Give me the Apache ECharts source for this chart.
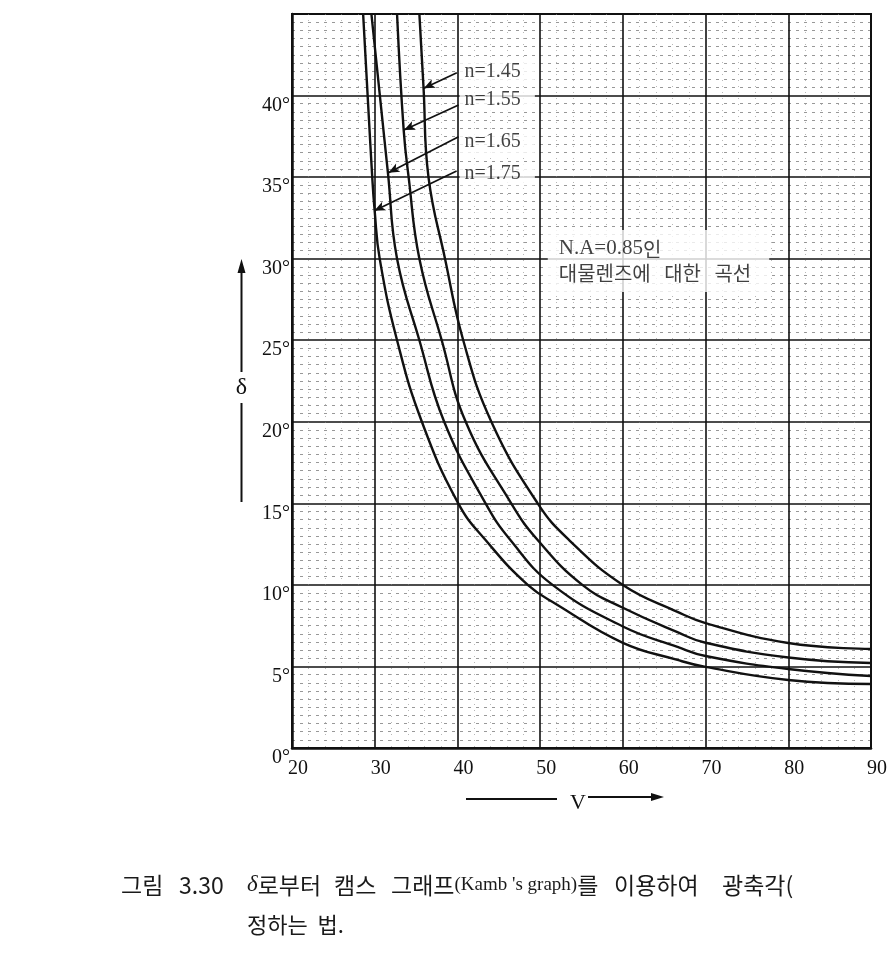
<!DOCTYPE html>
<html><head><meta charset="utf-8">
<script src="https://cdn.jsdelivr.net/npm/echarts@6/dist/echarts.min.js"></script>
<style>html,body{margin:0;padding:0;background:#fff}#c{width:890px;height:953px}</style>
</head><body><div id="c"></div>
<script>
// ---- data (V in degrees, delta in degrees) ----
const xTicks = [20, 30, 40, 50, 60, 70, 80, 90];
const yTicks = [0, 5, 10, 15, 20, 25, 30, 35, 40];
const curveNames = ['n=1.45', 'n=1.55', 'n=1.65', 'n=1.75'];

const v145 = [35.4, 35.9, 36.5, 38.5, 40.7, 44.1, 49.7, 53.5, 60, 66.6, 70, 80, 90];
const d145 = [45, 40.5, 35, 30, 25, 20, 15, 12.75, 10, 8.35, 7.66, 6.44, 6.07];

const v155 = [32.7, 33.5, 34.1, 35.4, 38.1, 41.0, 46.5, 49.7, 55.1, 60, 66.6, 70, 80, 90];
const d155 = [45, 37.9, 35, 30, 25, 20, 15, 12.75, 10, 8.6, 7.1, 6.45, 5.55, 5.21];

const v165 = [29.6, 31.6, 32.7, 35.4, 38.4, 43.4, 46.4, 51.5, 60, 66.6, 70, 80, 90];
const d165 = [45, 35.25, 30, 25, 20, 15, 12.75, 10, 7.45, 6.2, 5.64, 4.84, 4.41];

const v175 = [28.6, 29.7, 30.0, 30.6, 32.7, 35.7, 40.1, 43.4, 48.5, 52.1, 60, 66.6, 70, 80, 90];
const d175 = [45, 35, 32.9, 30, 25, 20, 15, 12.75, 10, 8.77, 6.45, 5.4, 4.97, 4.17, 3.92];

const curves = [[v145, d145], [v155, d155], [v165, d165], [v175, d175]];

// annotation anchors (data coordinates)
const labelAnchors = [[40.26, 41.45], [40.26, 39.73], [40.26, 37.16], [40.26, 35.19]];
const arrowFrom = [[39.93, 41.40], [40.14, 39.42], [40.14, 37.48], [39.90, 35.37]];
const arrowTo = [[35.94, 40.45], [33.54, 37.89], [31.66, 35.27], [29.95, 32.94]];
const naAnchor = [50.92, 29.86];

const SERIF = "'Liberation Serif','DejaVu Serif',serif";
const KR = "'Noto Sans CJK KR','Noto Sans',sans-serif";

const chart = echarts.init(document.getElementById('c'), null, {renderer: 'canvas'});

const series = curves.map((c, i) => ({
  name: curveNames[i],
  type: 'line',
  data: c[0].map((v, j) => [v, c[1][j]]),
  smooth: 0.45,
  showSymbol: false,
  symbol: 'none',
  lineStyle: {color: '#111', width: 2.4},
  z: 5,
  silent: true
}));

// arrows
series.push({
  type: 'line',
  data: [],
  silent: true,
  markLine: {
    silent: true,
    symbol: ['none', 'arrow'],
    symbolSize: [7, 11],
    label: {show: false},
    lineStyle: {color: '#111', width: 1.7, type: 'solid'},
    emphasis: {disabled: true},
    data: arrowFrom.map((f, i) => [{coord: f}, {coord: arrowTo[i]}])
  },
  z: 6
});

// n labels
series.push({
  type: 'scatter',
  symbolSize: 0,
  silent: true,
  z: 7,
  data: labelAnchors.map((p, i) => ({value: p, name: curveNames[i]})),
  label: {
    show: true,
    position: 'right',
    distance: 0,
    formatter: p => p.name,
    fontFamily: SERIF,
    fontSize: 20,
    color: '#111',
    backgroundColor: '#fff',
    padding: [2, 14, 1, 5]
  }
});

// N.A label
series.push({
  type: 'scatter',
  symbolSize: 0,
  silent: true,
  z: 7,
  data: [{value: naAnchor}],
  label: {
    show: true,
    position: 'right',
    distance: 0,
    align: 'left',
    formatter: '{s|N.A=0.85}{k|인}\n{k|대물렌즈에   대한   곡선}',
    backgroundColor: '#fff',
    padding: [7, 18, 7, 11],
    rich: {
      s: {fontFamily: SERIF, fontSize: 21, color: '#111', lineHeight: 24},
      k: {fontFamily: KR, fontSize: 20, color: '#111', lineHeight: 24}
    }
  }
});

const option = {
  animation: false,
  backgroundColor: '#fff',
  grid: {left: 292, top: 14, right: 14, bottom: 205, show: true, borderColor: '#111', borderWidth: 2},
  xAxis: {
    type: 'value', min: 20, max: 90, interval: 10,
    axisLine: {show: true, onZero: false, lineStyle: {color: '#111', width: 2.5}},
    axisTick: {show: false},
    axisLabel: {
      color: '#111', fontFamily: SERIF, fontSize: 20, margin: 11,
      padding: [0, 0, 0, 12],
      formatter: v => xTicks.includes(v) ? String(v) : ''
    },
    splitLine: {show: true, lineStyle: {color: '#111', width: 1.6}},
    minorTick: {show: false, splitNumber: 5},
    minorSplitLine: {show: true, lineStyle: {color: '#888', width: 1, type: [1, 5], opacity: 0.6}}
  },
  yAxis: {
    type: 'value', min: 0, max: 45, interval: 5,
    axisLine: {show: true, onZero: false, lineStyle: {color: '#111', width: 2.5}},
    axisTick: {show: false},
    axisLabel: {
      color: '#111', fontFamily: SERIF, fontSize: 20, margin: 2,
      verticalAlign: 'top',
      formatter: v => yTicks.includes(v) ? v + '°' : ''
    },
    splitLine: {show: true, lineStyle: {color: '#111', width: 1.6}},
    minorTick: {show: false, splitNumber: 10},
    minorSplitLine: {show: true, lineStyle: {color: '#444', width: 1.2, type: [3, 5], opacity: 0.55}}
  },
  series: series,
  graphic: [
    // delta axis title with arrow
    {type: 'line', shape: {x1: 241.5, y1: 502, x2: 241.5, y2: 403}, style: {stroke: '#111', lineWidth: 2}},
    {type: 'line', shape: {x1: 241.5, y1: 372, x2: 241.5, y2: 270}, style: {stroke: '#111', lineWidth: 2}},
    {type: 'polygon', shape: {points: [[241.5, 259], [237.5, 273], [245.5, 273]]}, style: {fill: '#111'}},
    {type: 'text', x: 241.5, y: 388, style: {text: 'δ', font: "24px " + SERIF, fill: '#111', align: 'center', verticalAlign: 'middle'}},
    // V axis title with arrow
    {type: 'line', shape: {x1: 466, y1: 799, x2: 557, y2: 799}, style: {stroke: '#111', lineWidth: 2}},
    {type: 'text', x: 578, y: 803, style: {text: 'V', font: "22px " + SERIF, fill: '#111', align: 'center', verticalAlign: 'middle'}},
    {type: 'line', shape: {x1: 588, y1: 797, x2: 654, y2: 797}, style: {stroke: '#111', lineWidth: 2}},
    {type: 'polygon', shape: {points: [[664, 797], [651, 793], [651, 801]]}, style: {fill: '#111'}},
    // caption
    {type: 'text', x: 121, y: 885, style: {text: '그림', font: "23px " + KR, fill: '#1a1a1a', verticalAlign: 'middle'}},
    {type: 'text', x: 179, y: 885, style: {text: '3.30', font: "23px " + KR, fill: '#1a1a1a', verticalAlign: 'middle'}},
    {type: 'text', x: 247, y: 885, style: {
      text: '{d|δ}{k|로부터}', verticalAlign: 'middle',
      rich: {d: {fontFamily: SERIF, fontStyle: 'italic', fontSize: 23, fill: '#1a1a1a'}, k: {fontFamily: KR, fontSize: 23, fill: '#1a1a1a'}}}},
    {type: 'text', x: 334, y: 885, style: {text: '캠스', font: "23px " + KR, fill: '#1a1a1a', verticalAlign: 'middle'}},
    {type: 'text', x: 391, y: 885, style: {
      text: "{k|그래프}{s|(Kamb 's graph)}{k|를}", verticalAlign: 'middle',
      rich: {s: {fontFamily: SERIF, fontSize: 19, fill: '#1a1a1a'}, k: {fontFamily: KR, fontSize: 23, fill: '#1a1a1a'}}}},
    {type: 'text', x: 614, y: 885, style: {text: '이용하여', font: "23px " + KR, fill: '#1a1a1a', verticalAlign: 'middle'}},
    {type: 'text', x: 722, y: 885, style: {text: '광축각(', font: "23px " + KR, fill: '#1a1a1a', verticalAlign: 'middle'}},
    {type: 'text', x: 247, y: 925, style: {text: '정하는  법.', font: "22px " + KR, fill: '#1a1a1a', verticalAlign: 'middle'}}
  ]
};
chart.setOption(option);
</script>
</body></html>
